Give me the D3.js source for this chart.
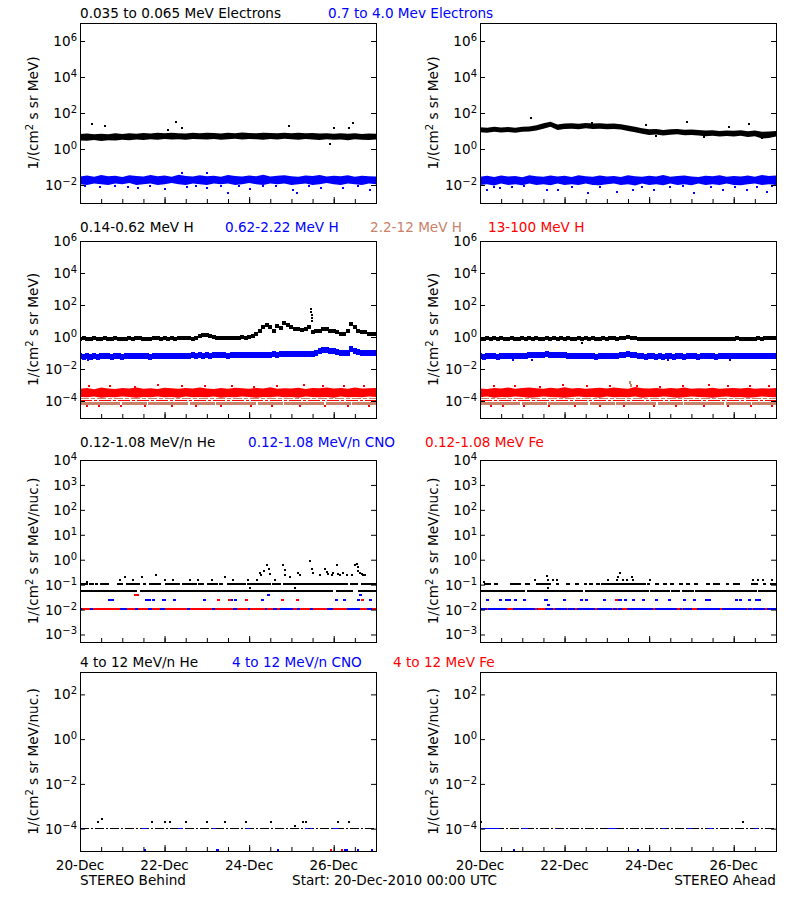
<!DOCTYPE html>
<html><head><meta charset="utf-8">
<script src="https://cdn.jsdelivr.net/npm/d3@7"></script>
<style>
body{margin:0;background:#fff;}
svg{display:block;font-family:"DejaVu Sans",sans-serif;}
</style></head><body>
<svg id="c" width="800" height="900"></svg>
<script>
// ---------------- DATA ----------------
const START = Date.UTC(2010, 11, 20);          // 20-Dec-2010 00:00 UTC
const tH = h => new Date(START + h * 3600000);  // hours since start -> Date
const H4 = d3.range(0, 169, 4);                 // 4-hour sampling grid
const H2 = d3.range(0, 169, 2);                 // 2-hour sampling grid
const xTickLabels = [0, 48, 96, 144];

// Row 1 : electrons (band envelopes, 4-hour bins)
const eLoB_lo = [3.0,2.9,3.2,2.8,3.1,3.0,3.3,3.1,3.4,3.2,3.5,3.3,3.6,3.4,3.5,3.3,3.6,3.5,3.4,3.6,3.3,3.5,3.7,3.4,3.6,3.5,3.3,3.6,3.4,3.7,3.5,3.3,3.6,3.4,3.2,3.5,3.3,3.4,3.1,3.5,3.3,3.2,3.4];
const eLoB_hi = [6.8,7.2,6.5,7.0,6.6,7.4,6.9,7.5,7.1,7.8,7.3,7.9,7.4,8.0,7.6,7.2,7.9,7.5,8.1,7.7,7.3,8.0,7.6,8.2,7.8,7.4,8.1,7.7,7.5,8.0,7.6,7.9,7.4,7.8,7.2,7.6,7.0,7.5,7.1,7.4,6.9,7.3,7.0];
const eHiB_lo = [0.011,0.010,0.012,0.011,0.010,0.012,0.011,0.013,0.010,0.011,0.012,0.010,0.011,0.013,0.011,0.010,0.012,0.011,0.010,0.012,0.011,0.012,0.010,0.011,0.013,0.011,0.010,0.012,0.011,0.012,0.010,0.011,0.012,0.010,0.011,0.013,0.011,0.010,0.012,0.011,0.010,0.012,0.011];
const eHiB_hi = [0.030,0.034,0.029,0.036,0.031,0.033,0.028,0.035,0.032,0.030,0.036,0.031,0.034,0.029,0.037,0.032,0.030,0.035,0.031,0.033,0.029,0.036,0.032,0.030,0.034,0.031,0.037,0.030,0.033,0.035,0.031,0.029,0.034,0.032,0.036,0.030,0.033,0.031,0.035,0.029,0.033,0.031,0.030];
const eLoB_out = [[6.6,26],[14.2,18],[50,12],[54.3,31],[57.7,15],[118.8,18],[141.9,2],[144.3,15],[152.8,15],[154.8,28]];
const eHiB_out = [[11.4,0.008],[33,0.0066],[48.2,0.006],[57.7,0.045],[61,0.008],[71.9,0.0066],[72.3,0.045],[84.2,0.0035],[96.5,0.006],[120.7,0.0053],[123,0.0035],[137,0.0066],[149.4,0.0066],[164.6,0.0053],[3,0.0085],[20,0.009],[27,0.0082],[40,0.0088],[66,0.0085],[80,0.009],[90,0.0083],[104,0.0088],[111,0.0085],[130,0.009],[158,0.0086]];

const eLoA_hi = [16,15,17,15.5,16.5,15,17,18,21,27,33,23,26,27,25,28,26,27,25,26,24,20,17,14,12.5,13,11.5,12.5,13,11.8,12,11.5,10.5,11,10,10.8,10.2,11,9.8,10.5,9,9.5,10];
const eLoA_lo = [8.5,8,9,8.2,8.8,7.9,9,9.5,10.5,13.5,17,11.5,13,13.5,12.5,14,12.8,13.5,12.4,13,12,10,8.5,7,6,6.4,5.7,6.2,6.5,5.8,6,5.6,5.1,5.5,4.9,5.3,5,5.4,4.7,5.1,3.8,4.1,5];
const eHiA_lo = [0.010,0.011,0.0095,0.012,0.010,0.011,0.0098,0.012,0.010,0.011,0.0096,0.012,0.010,0.011,0.0099,0.012,0.010,0.0097,0.011,0.012,0.010,0.011,0.0095,0.012,0.010,0.011,0.0098,0.012,0.010,0.011,0.0096,0.012,0.010,0.011,0.0099,0.012,0.010,0.0097,0.011,0.012,0.010,0.011,0.010];
const eHiA_hi = [0.029,0.033,0.028,0.034,0.030,0.032,0.027,0.035,0.031,0.029,0.034,0.030,0.033,0.028,0.035,0.031,0.029,0.034,0.030,0.032,0.028,0.035,0.031,0.029,0.033,0.030,0.036,0.029,0.032,0.034,0.030,0.028,0.033,0.031,0.035,0.029,0.032,0.030,0.034,0.029,0.036,0.032,0.034];
const eLoA_out = [[29,52],[63.3,27],[94.2,22],[117.3,33],[141.5,17.6],[152.5,25],[160,4.2],[127,4.5],[100,5.2]];
const eHiA_out = [[3.8,0.0056],[11.3,0.0068],[37.9,0.005],[44.5,0.0056],[61.5,0.0034],[77.6,0.0042],[87,0.0056],[98.5,0.005],[121.2,0.0034],[138.2,0.005],[151.5,0.0056],[162.8,0.0042],[8,0.008],[18,0.0075],[25,0.0085],[52,0.008],[68,0.0078],[92,0.0082],[108,0.0079],[115,0.0085],[131,0.0076],[145,0.0081],[157,0.0078],[166,0.0083]];

// Row 2 : protons (2-hour samples)
const pLoB = [0.78,0.82,0.76,0.80,0.84,0.77,0.79,0.81,0.75,0.80,0.83,0.78,0.80,0.76,0.82,0.79,0.81,0.84,0.78,0.80,0.77,0.83,0.81,0.79,0.85,0.80,0.82,0.78,0.84,0.81,0.86,0.83,0.80,0.85,
  1.15,1.30,1.25,1.20,1.05,
  0.92,0.88,0.90,0.93,0.87,0.91,0.89,0.94,0.90,0.95,
  1.1,1.5,2.3,4.5,5.4,4.0,2.3,5.0,3.5,7.0,6.0,4.0,3.0,3.0,2.9,3.2,4.0,2.1,2.3,2.4,3.2,3.3,2.5,2.3,2.2,1.6,1.5,2.3,6.7,4.2,2.3,2.1,2.0,1.6,1.5,1.5];
const pLoB_spike = [[131,53],[131.2,35],[131.4,23],[131.6,15],[131.8,9.6]];
const pMidB = [0.062,0.058,0.066,0.060,0.064,0.057,0.063,0.067,0.061,0.059,0.065,0.062,0.060,0.066,0.063,0.061,0.064,0.068,0.062,0.065,0.060,0.066,0.063,0.067,0.064,0.061,0.066,0.069,0.064,0.067,
  0.068,0.065,0.070,0.067,0.071,0.068,0.073,0.069,0.072,0.070,0.074,0.071,0.069,0.073,0.076,0.072,0.075,0.073,0.077,0.074,0.078,0.075,0.079,0.076,0.080,
  0.082,0.079,0.084,0.081,0.086,0.083,0.088,0.085,0.087,0.090,0.086,0.092,0.095,
  0.14,0.15,0.145,0.14,0.13,0.12,0.105,0.10,0.095,0.19,0.14,0.11,0.10,0.105,0.10,0.095,0.098];
const pMidB_out = [[4.7,0.035]];
const pLoA = [0.80,0.76,0.83,0.78,0.81,0.75,0.82,0.79,0.77,0.84,
  0.80,0.78,0.82,0.76,0.81,0.79,0.83,0.77,0.80,0.85,
  0.78,0.81,0.76,0.82,0.79,0.84,0.80,0.77,0.83,0.79,
  0.81,0.78,0.82,0.80,0.77,0.83,0.79,0.81,0.84,0.80,
  0.86,0.82,0.95,0.88,0.81,0.78,0.76,0.80,0.74,0.78,
  0.75,0.79,0.73,0.77,0.76,0.74,0.78,0.75,0.77,0.73,
  0.76,0.78,0.74,0.77,0.75,0.79,0.76,0.78,0.74,0.77,
  0.80,0.76,0.78,0.81,0.77,0.79,0.76,0.80,0.78,0.82,
  0.79,0.81,0.84,0.83,0.88];
const pLoA_out = [[57.7,0.42]];
const pMidA = [0.064,0.060,0.067,0.062,0.065,0.059,0.066,0.063,0.061,0.068,
  0.064,0.066,0.062,0.069,0.072,0.075,0.078,0.080,0.077,0.082,
  0.079,0.076,0.080,0.074,0.070,0.066,0.068,0.063,0.067,0.064,
  0.062,0.066,0.063,0.060,0.065,0.061,0.064,0.067,0.063,0.066,
  0.070,0.074,0.085,0.078,0.072,0.066,0.063,0.060,0.064,0.061,
  0.059,0.063,0.060,0.064,0.061,0.058,0.062,0.065,0.060,0.063,
  0.061,0.064,0.059,0.062,0.066,0.061,0.063,0.060,0.064,0.062,
  0.065,0.061,0.063,0.066,0.062,0.064,0.067,0.063,0.065,0.062,
  0.066,0.064,0.068,0.065,0.067];
const pMidA_out = [[18.9,0.034],[29.3,0.036],[106.9,0.035],[141.9,0.036]];
const pHiB_lo = [1.8e-4,1.7e-4,1.9e-4,1.6e-4,1.8e-4,1.7e-4,1.9e-4,1.8e-4,1.6e-4,1.8e-4,1.7e-4,1.9e-4,1.7e-4,1.8e-4,1.6e-4,1.9e-4,1.7e-4,1.8e-4,1.7e-4,1.9e-4,1.6e-4,1.8e-4,1.7e-4,1.9e-4,1.8e-4,1.6e-4,1.8e-4,1.7e-4,1.9e-4,1.7e-4,1.8e-4,1.6e-4,1.9e-4,1.8e-4,1.7e-4,1.8e-4,1.6e-4,1.9e-4,1.7e-4,1.8e-4,1.7e-4,1.9e-4,1.8e-4];
const pHiB_hi = [5.8e-4,6.4e-4,5.5e-4,6.9e-4,6.1e-4,5.7e-4,6.6e-4,6.0e-4,7.1e-4,5.9e-4,6.3e-4,5.6e-4,6.8e-4,6.2e-4,5.8e-4,6.5e-4,6.0e-4,7.0e-4,6.1e-4,5.7e-4,6.4e-4,5.9e-4,6.7e-4,6.2e-4,5.8e-4,6.6e-4,6.1e-4,7.2e-4,5.9e-4,6.3e-4,6.0e-4,6.8e-4,5.7e-4,6.5e-4,6.2e-4,7.0e-4,6.0e-4,6.4e-4,5.8e-4,6.9e-4,6.1e-4,6.3e-4,6.6e-4];
const pHiA_lo = [1.7e-4,1.9e-4,1.6e-4,1.8e-4,1.7e-4,1.9e-4,1.8e-4,1.6e-4,1.7e-4,1.9e-4,1.8e-4,1.7e-4,1.6e-4,1.8e-4,1.9e-4,1.7e-4,1.8e-4,1.6e-4,1.9e-4,1.7e-4,1.8e-4,1.7e-4,1.9e-4,1.6e-4,1.8e-4,1.7e-4,1.9e-4,1.8e-4,1.6e-4,1.7e-4,1.9e-4,1.8e-4,1.7e-4,1.6e-4,1.8e-4,1.9e-4,1.7e-4,1.8e-4,1.6e-4,1.7e-4,1.9e-4,1.8e-4,1.7e-4];
const pHiA_hi = [6.1e-4,5.7e-4,6.6e-4,6.0e-4,7.0e-4,5.8e-4,6.4e-4,6.9e-4,6.2e-4,5.9e-4,6.7e-4,6.1e-4,7.3e-4,6.0e-4,6.5e-4,5.8e-4,6.3e-4,6.8e-4,6.0e-4,7.1e-4,6.2e-4,5.9e-4,7.4e-4,6.3e-4,6.0e-4,6.6e-4,5.8e-4,6.4e-4,6.1e-4,6.9e-4,5.9e-4,6.3e-4,6.0e-4,6.7e-4,5.8e-4,6.2e-4,6.5e-4,6.0e-4,6.8e-4,5.9e-4,6.3e-4,6.1e-4,6.6e-4];
const pHi_upper = [[5,8.5e-4],[17,9e-4],[31,8e-4],[44,9.5e-4],[58,8.2e-4],[71,8.8e-4],[86,9.2e-4],[99,8e-4],[112,8.6e-4],[127,9.5e-4],[138,8.3e-4],[150,9e-4],[161,8.5e-4]];
const pHi_lowHours = [4,11,23,37,52,66,80,97,109,125,139,152,164];
const pHi_lowLevel = 4.9e-5, pHi_floor = 1.05e-4;
const pMidHi_levels = [1.4e-4, 6.8e-5];
const pMidHiA_spike = [[85,1.5e-3],[85.5,1.0e-3]];

// Row 3 : 0.12-1.08 MeV/n heavy ions
const heLevels = [0.055, 0.11];
const ionLevels = [0.011, 0.024, 0.037];
const heB_seg = [[0,32.5],[34,143.5],[145.5,155],[158,168]];
const heA_seg = [[0,25.7],[26.5,58.7],[59.5,95.7],[96.5,107.7],[108.5,113.7],[114.5,121.3],[122,157.3],[158,168]];
const heB_mid = [0.5,2,3.5,6,7,9.5,12.5,14,15.5,22,23.5,27,28.5,30,32,33,36.5,40,42,43.5,45,49,50.5,52,54,55.5,59,60.5,62,64,65.5,68,69.5,73,74.5,76,77.5,80,84.5,86,88,90,91.5,93,96,97.5,100,101.5,103,104.5,106,107.5,110,111.5,113,116,117.5,119,121,122.5,124,125.5,127,129.5,131,133,134.5,136,137.5,139,140.5,142,143.5,145,146.5,148,149.5,151,154,155.5,157,160.5,162,163.5,165,166.5,167.5];
const heA_mid = [3,5,9,18,19.5,21,22.5,26.5,27.5,33,34.5,36,37.5,39.5,44,50,55,60,63,67,69.5,71,72.5,74,75.5,77,78.5,80,81.5,83,84.5,86,87.5,89,90.5,92,93.5,95.5,100.5,105,109,114,118,122.5,129.5,133,135,140.5,144.5,146.5,155,157,161.5,165.5,167];
const heB_pts = [[4,0.125],[22.7,0.15],[25.5,0.2],[30,0.15],[35,0.2],[43,0.236],[48,0.15],[53,0.15],[62.4,0.15],[67,0.15],[74.7,0.15],[82.3,0.2],[87,0.15],[95.5,0.15],[96.5,0.073],[100.3,0.16],[102,0.3],[103,0.236],[104.5,0.34],[106,0.59],[107,0.44],[107.8,0.27],[110.7,0.15],[115,0.59],[116.3,0.4],[116.5,0.236],[119.2,0.2],[122,0.073],[123.9,0.28],[124.9,0.236],[130.5,0.85],[131.5,0.44],[132.4,0.3],[136.2,0.236],[139,0.44],[140,0.32],[141,0.27],[142.8,0.25],[143.8,0.3],[145.7,0.59],[146.6,0.27],[147.6,0.25],[149.4,0.28],[151.3,0.25],[154.2,0.236],[156,0.59],[157,0.7],[157.5,0.5],[158,0.36],[159,0.3],[159.9,0.27],[160.8,0.25],[161.7,0.25]];
const heA_pts = [[2,0.125],[31.2,0.15],[37.8,0.22],[38.8,0.15],[38.8,0.073],[41.6,0.15],[43.5,0.15],[72.8,0.15],[77.6,0.15],[78.5,0.2],[79.5,0.28],[81.3,0.15],[83.2,0.15],[86,0.2],[87,0.15],[96.5,0.15],[155,0.15],[158,0.15],[160.8,0.15],[165.5,0.15]];
const cnoB_pts = [[17,0.024],[18.5,0.024],[37.8,0.024],[39.7,0.024],[41.6,0.024],[47.3,0.024],[48.2,0.024],[53.9,0.024],[70.9,0.024],[86,0.024],[88,0.024],[94.6,0.024],[103.7,0.024],[145.3,0.024],[150.4,0.024],[158,0.024],[164.6,0.024],[106.9,0.037],[159,0.037]];
const feB_pts = [[78.5,0.024],[84.8,0.024],[94.6,0.024],[115,0.024],[123.3,0.024],[160.4,0.024],[31.7,0.037],[32.7,0.037]];
const cnoA_pts = [[4.2,0.024],[11.7,0.024],[15.1,0.024],[16.5,0.024],[20.4,0.024],[25.5,0.024],[36.9,0.024],[37.8,0.024],[48.2,0.024],[57.7,0.024],[60.5,0.024],[70.4,0.024],[78.5,0.024],[79.5,0.024],[82.3,0.024],[87,0.024],[92.7,0.024],[100.3,0.024],[107.8,0.024],[116.3,0.024],[122,0.024],[128.6,0.024],[130.5,0.024],[145.7,0.024],[147.6,0.024],[153.2,0.024],[157,0.024],[158.9,0.024],[38.8,0.0157]];
const feA_pts = [[77.6,0.024]];
const cnoB_floorSeg = [[0,1],[5.7,7.6],[22.7,26.5],[31.2,33.1],[38.8,40.7],[45.4,48.2],[60.5,62.4],[74.7,76.6],[87,88.9],[95.5,96.5],[105,106],[109.7,111.6],[113.5,121.1],[123,124.9],[130.5,132.4],[140,143.8],[151.3,158.9],[162.7,165.5]];
const feA_floorSeg = [[3.8,4.7],[15.1,18.9],[31.2,32.2],[33.1,36.9],[41.6,42.6],[49.2,50.1],[53.9,54.9],[65.3,66.2],[74.7,75.7],[77.6,78.5],[80.4,83.2],[98.4,99.3],[111.6,113.5],[114.5,115],[120.1,123],[136.2,137.2],[151.3,152.3],[154.2,155.1],[161.7,162.7]];

// Row 4 : 4-12 MeV/n heavy ions
const hiFloor = 1e-4, hiLow = 1.1e-5;
const he4B_pts = [[10,2e-4],[12.3,2.6e-4],[40.7,2e-4],[48.2,2e-4],[51.1,2e-4],[60.2,2e-4],[71.9,2e-4],[82.3,2e-4],[94.2,2e-4],[108.4,2e-4],[122,1.3e-4],[126.4,2e-4],[128.3,2e-4],[146.2,2e-4],[152.5,2e-4]];
const he4A_pts = [[0.4,2e-4],[149.4,2e-4]];
const cno4B_low = [36.9,77.6,78.5,112.6,150.4,151.7,158,165.5];
const fe4B_low = [142.3,148.5];
const cno4A_low = [19.5,89.5];
const cno4B_seg = [[0,1.5],[35,37.8],[55.8,58.6],[75.7,77.2],[94.6,96.5],[127.7,129.6],[130.5,132.4],[143.8,146.6]];
const cno4A_seg = [[0,11.3],[23.7,27.4],[42.6,43.5],[71.9,77.6],[103.1,105],[117.3,120.1],[129.6,132.4],[156,158]];

// Titles
const titles = [
  [["0.035 to 0.065 MeV Electrons","#000",80],["0.7 to 4.0 Mev Electrons","#00f",328]],
  [["0.14-0.62 MeV H","#000",80],["0.62-2.22 MeV H","#00f",225],["2.2-12 MeV H","#c8826a",370],["13-100 MeV H","#f00",488]],
  [["0.12-1.08 MeV/n He","#000",80],["0.12-1.08 MeV/n CNO","#00f",248],["0.12-1.08 MeV Fe","#f00",425]],
  [["4 to 12 MeV/n He","#000",80],["4 to 12 MeV/n CNO","#00f",232],["4 to 12 MeV Fe","#f00",393]]
];

// ---------------- LAYOUT ----------------
const BLACK="#000000", BLUE="#0000ff", RED="#ff0000", BROWN="#c8826a";
const FS = 13.6;
const COLS = [80, 480], PW = 296;
const ROWS = [
  {top:23, bot:203, dom:[1e-3,1e7], ticks:[1e-2,1,1e2,1e4,1e6], unit:"MeV)", tb:18},
  {top:241, bot:418, dom:[Math.pow(10,-5.0625),1e6], ticks:[1e-4,1e-2,1,1e2,1e4,1e6], unit:"MeV)", tb:232},
  {top:460, bot:642, dom:[5e-4,1e4], ticks:[1e-3,1e-2,1e-1,1,1e1,1e2,1e3,1e4], unit:"MeV/nuc.)", tb:447},
  {top:672, bot:851, dom:[1e-5,1e3], ticks:[1e-4,1e-2,1,1e2], unit:"MeV/nuc.)", tb:667}
];
const svg = d3.select("#c");
svg.append("rect").attr("width",800).attr("height",900).attr("fill","#fff");

function makePanel(ci, ri){
  const r = ROWS[ri], x0 = COLS[ci];
  const x = d3.scaleUtc().domain([tH(0), tH(168)]).range([x0, x0+PW]);
  const y = d3.scaleLog().domain(r.dom).range([r.bot, r.top]);
  const id = `clip${ci}${ri}`;
  svg.append("clipPath").attr("id", id).append("rect")
    .attr("x", x0).attr("y", r.top).attr("width", PW).attr("height", r.bot - r.top);
  const g = svg.append("g").attr("clip-path", `url(#${id})`).attr("shape-rendering","crispEdges");
  return {x, y, g, x0, r, ci, ri};
}
function band(p, hours, lo, hi, color){
  p.g.append("path").datum(d3.zip(hours, lo, hi))
    .attr("d", d3.area().x(d=>p.x(tH(d[0]))).y0(d=>p.y(d[1])).y1(d=>p.y(d[2])))
    .attr("fill", color).attr("shape-rendering","auto");
}
function dots(p, pts, color, w, h){
  p.g.append("g").selectAll("rect").data(pts).join("rect")
    .attr("x", d=>p.x(tH(d[0]))-w/2).attr("y", d=>p.y(d[1])-h/2)
    .attr("width", w).attr("height", h).attr("fill", color);
}
function series(p, hours, vals, color, w, h){ dots(p, d3.zip(hours, vals), color, w, h); }
function segs(p, list, level, color, width, dash){
  p.g.append("g").selectAll("line").data(list).join("line")
    .attr("x1", d=>p.x(tH(d[0]))).attr("x2", d=>p.x(tH(d[1])))
    .attr("y1", p.y(level)).attr("y2", p.y(level))
    .attr("stroke", color).attr("stroke-width", width)
    .attr("stroke-dasharray", dash || null);
}

function axes(p){
  const {x, y, x0, r, ri} = p;
  const a = svg.append("g");
  const minor = d3.range(12, 168, 12).map(tH);
  const major = [48, 96, 144].map(tH);
  a.append("g").attr("transform",`translate(0,${r.bot})`)
    .call(d3.axisBottom(x).tickValues(minor).tickSize(-4).tickFormat(""))
    .call(s=>s.select(".domain").remove());
  a.append("g").attr("transform",`translate(0,${r.bot})`)
    .call(d3.axisBottom(x).tickValues(major).tickSize(-6).tickFormat(""))
    .call(s=>s.select(".domain").remove());
  a.append("g").attr("transform",`translate(${x0},0)`)
    .call(d3.axisLeft(y).tickValues(r.ticks).tickSize(-5).tickFormat(""))
    .call(s=>s.select(".domain").remove());
  a.append("g").attr("transform",`translate(${x0+PW},0)`)
    .call(d3.axisRight(y).tickValues(r.ticks).tickSize(-5).tickFormat(""))
    .call(s=>s.select(".domain").remove());
  a.selectAll(".tick line").attr("stroke", "#000");
  a.append("rect").attr("x", x0+0.5).attr("y", r.top+0.5).attr("width", PW).attr("height", r.bot-r.top)
    .attr("fill","none").attr("stroke","#000").attr("stroke-width",1);
  // y tick labels 10^n
  const lab = a.append("g").attr("font-size", FS).attr("text-anchor","end");
  r.ticks.forEach(v=>{
    const e = Math.round(Math.log10(v));
    const t = lab.append("text").attr("x", x0-3).attr("y", y(v)+5);
    t.append("tspan").text("10");
    t.append("tspan").attr("dy", -5).attr("font-size", 10).text(String(e).replace("-", "\u2212"));
  });
  // y axis title
  const cy = (r.top + r.bot)/2, cx = x0 - 42;
  const yt = a.append("text").attr("font-size", FS).attr("text-anchor","middle")
    .attr("transform", `translate(${cx},${cy}) rotate(-90)`);
  yt.append("tspan").text("1/(cm");
  yt.append("tspan").attr("dy",-5).attr("font-size",10).text("2");
  yt.append("tspan").attr("dy",5).text(" s sr " + r.unit);
  // x labels on last row
  if (ri === 3){
    const fmt = d3.utcFormat("%d-%b");
    a.append("g").attr("font-size", FS).attr("text-anchor","middle")
      .selectAll("text").data(xTickLabels).join("text")
      .attr("x", h=>x(tH(h))).attr("y", 870).text(h=>fmt(tH(h)));
  }
}

// ---------------- DRAW ----------------
const P = [];
for (let ri=0; ri<4; ri++) for (let ci=0; ci<2; ci++) P.push(makePanel(ci, ri));
const pan = (ci, ri) => P[ri*2+ci];

// Row 1
{ let p = pan(0,0);
  band(p, H4, eHiB_lo, eHiB_hi, BLUE); dots(p, eHiB_out, BLUE, 2, 2);
  band(p, H4, eLoB_lo, eLoB_hi, BLACK); dots(p, eLoB_out, BLACK, 2, 2);
  p = pan(1,0);
  band(p, H4, eHiA_lo, eHiA_hi, BLUE); dots(p, eHiA_out, BLUE, 2, 2);
  band(p, H4, eLoA_lo, eLoA_hi, BLACK); dots(p, eLoA_out, BLACK, 2, 2);
}
// Row 2
[[pan(0,1), pHiB_lo, pHiB_hi, pMidB, pMidB_out, pLoB, []],
 [pan(1,1), pHiA_lo, pHiA_hi, pMidA, pMidA_out, pLoA, pLoA_out]].forEach(([p, lo, hi, mid, midOut, low, lowOut], i)=>{
  segs(p, [[0,168]], pMidHi_levels[1], BROWN, 2.5, "40,1.5,25,1.5");
  segs(p, [[0,168]], pMidHi_levels[0], BROWN, 1, "9,2,4,2");
  segs(p, [[0,168]], pHi_floor, RED, 1, "12,2,3,2");
  dots(p, pHi_lowHours.map(h=>[h + i*2, pHi_lowLevel]), RED, 2, 2);
  band(p, H4, lo, hi, RED);
  dots(p, pHi_upper.map(d=>[d[0] + i*3, d[1]]), RED, 2, 2);
  if (i === 1) dots(p, pMidHiA_spike, BROWN, 2, 3);
  series(p, H2, mid, BLUE, 4, 6); dots(p, midOut, BLUE, 2, 2);
  series(p, H2, low, BLACK, 4, 4); dots(p, lowOut, BLACK, 2, 2);
  if (i === 0) dots(p, pLoB_spike, BLACK, 2, 2);
});
// Row 3
{ let p = pan(0,2);
  segs(p, [[0,168]], ionLevels[0], RED, 2);
  segs(p, cnoB_floorSeg, ionLevels[0], BLUE, 2);
  dots(p, cnoB_pts, BLUE, 3, 2); dots(p, feB_pts, RED, 3, 2);
  segs(p, heB_seg, heLevels[0], BLACK, 2);
  dots(p, heB_mid.map(h=>[h, heLevels[1]]), BLACK, 3.5, 2);
  dots(p, heB_pts, BLACK, 2, 2);
  p = pan(1,2);
  segs(p, [[0,168]], ionLevels[0], BLUE, 2);
  segs(p, feA_floorSeg, ionLevels[0], RED, 2);
  dots(p, cnoA_pts, BLUE, 3, 2); dots(p, feA_pts, RED, 3, 2);
  segs(p, heA_seg, heLevels[0], BLACK, 2);
  dots(p, heA_mid.map(h=>[h, heLevels[1]]), BLACK, 3.5, 2);
  dots(p, heA_pts, BLACK, 2, 2);
}
// Row 4
{ let p = pan(0,3);
  segs(p, [[0,168]], hiFloor, BLACK, 1.2, "9,2,2,2");
  segs(p, cno4B_seg, hiFloor, BLUE, 1.2);
  dots(p, he4B_pts, BLACK, 2, 2);
  dots(p, cno4B_low.map(h=>[h, hiLow]), BLUE, 2, 2);
  dots(p, fe4B_low.map(h=>[h, hiLow]), RED, 2, 2);
  p = pan(1,3);
  segs(p, [[0,168]], hiFloor, BLACK, 1.2, "9,2,2,2");
  segs(p, cno4A_seg, hiFloor, BLUE, 1.2);
  dots(p, he4A_pts, BLACK, 2, 2);
  dots(p, cno4A_low.map(h=>[h, hiLow]), BLUE, 2, 2);
}

P.forEach(axes);

// Titles and footer
titles.forEach((row, ri)=>{
  svg.append("g").attr("font-size", FS).selectAll("text").data(row).join("text")
    .attr("x", d=>d[2]).attr("y", ROWS[ri].tb).attr("fill", d=>d[1]).text(d=>d[0]);
});
const foot = svg.append("g").attr("font-size", FS);
foot.append("text").attr("x", 80).attr("y", 885).text("STEREO Behind");
foot.append("text").attr("x", 292).attr("y", 885).text("Start: 20-Dec-2010 00:00 UTC");
foot.append("text").attr("x", 776).attr("y", 885).attr("text-anchor","end").text("STEREO Ahead");
</script></body></html>
